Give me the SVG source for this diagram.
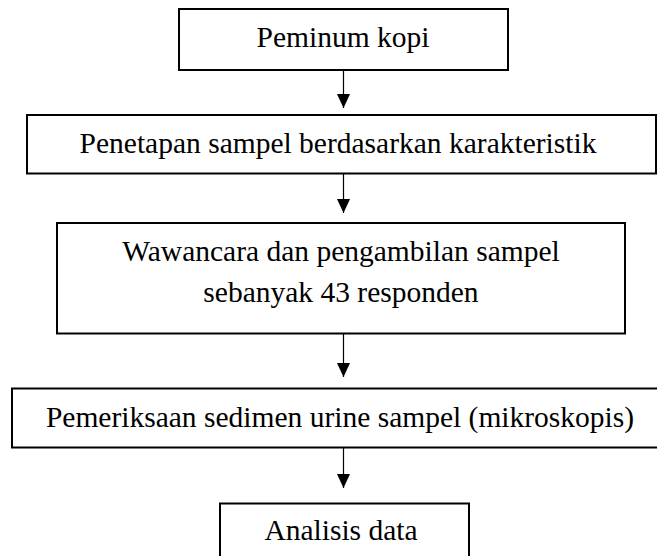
<svg xmlns="http://www.w3.org/2000/svg" width="657" height="556" viewBox="0 0 657 556">
<defs>
<style>
.box{fill:#fff;stroke:#000;stroke-width:2}
.t{font-family:"Liberation Serif","Times New Roman",serif;font-size:29.5px;fill:#000;text-anchor:middle}
.c{stroke:#000;stroke-width:1.2;fill:none;marker-end:url(#ah)}
</style>
<marker id="ah" markerUnits="userSpaceOnUse" markerWidth="14" markerHeight="15" refX="15" refY="7" orient="auto" viewBox="0 0 15 14">
<path d="M0,0 L15,7 L0,14 Z" fill="#000"/>
</marker>
</defs>
<rect width="657" height="556" fill="#fff"/>
<g id="connectors">
<line class="c" x1="343.5" y1="70" x2="343.5" y2="108"/>
<line class="c" x1="343.5" y1="174" x2="343.5" y2="213"/>
<line class="c" x1="343.5" y1="333" x2="343.5" y2="377"/>
<line class="c" x1="343.5" y1="447" x2="343.5" y2="488"/>
</g>
<g id="n1">
<rect class="box" x="179" y="9" width="329" height="61"/>
<text class="t" x="343" y="46.7">Peminum kopi</text>
</g>
<g id="n2">
<rect class="box" x="27" y="115" width="629" height="58.5"/>
<text class="t" x="338" y="153.3">Penetapan sampel berdasarkan karakteristik</text>
</g>
<g id="n3">
<rect class="box" x="57" y="223" width="568" height="110.5"/>
<text class="t" x="341" y="261">Wawancara dan pengambilan sampel</text>
<text class="t" x="341" y="301.7">sebanyak 43 responden</text>
</g>
<g id="n4">
<rect class="box" x="12" y="388.5" width="670" height="59"/>
<text class="t" x="340" y="427">Pemeriksaan sedimen urine sampel (mikroskopis)</text>
</g>
<g id="n5">
<rect class="box" x="220" y="503.5" width="249" height="70"/>
<text class="t" x="341" y="540">Analisis data</text>
</g>
</svg>
